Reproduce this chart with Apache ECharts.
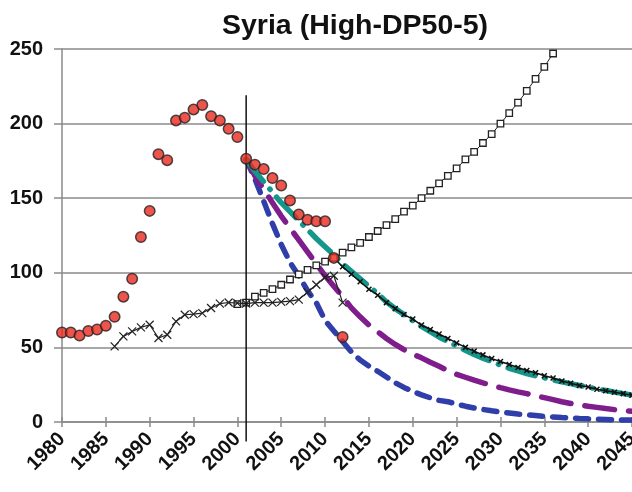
<!DOCTYPE html>
<html>
<head>
<meta charset="utf-8">
<script src="https://cdn.jsdelivr.net/npm/echarts@6/dist/echarts.min.js"></script>
<style>
  html, body { margin: 0; padding: 0; background: #fff; }
  #chart { width: 632px; height: 492px; }
</style>
</head>
<body>
<div id="chart"></div>
<script>
// ---- Data -------------------------------------------------------------
const titleText = 'Syria (High-DP50-5)';

// Historical production (red dots), one value per year from 1980
const productionStart = 1980;
const production = [60, 60, 58, 61, 62, 64.5, 70.5, 84, 96, 124, 141.5, 179.5, 175.5,
  202, 204, 209.5, 212.5, 205, 202, 196.5, 191, 176.5, 172.5, 169.5, 163.5, 158.5,
  148.5, 139, 135.5, 134.5, 134.5, 110, 57];

// Historical consumption (crosses), from 1986
const consumptionStart = 1986;
const consumption = [50.7, 57.4, 60.7, 63.4, 65.2, 56.3, 58.5, 67.4, 71.9, 72.3, 73,
  76.4, 79.3, 80.1, 79.7, 79.3, 80, 80, 80, 80.5, 81, 82, 87, 92, 97, 98, 80];

// Projected consumption growth (open squares), from 2000
const demandStart = 2000;
const demand = [79, 80, 84, 86.5, 89, 92, 95.5, 99, 102, 105, 107.5, 110, 113.5, 117,
  120, 124, 128, 132, 136, 141, 145, 150, 155, 160, 165, 170, 176, 181, 187, 193,
  200, 207, 214, 222, 230, 238, 247];

// Production forecast scenarios, from 2001
const scenarioStart = 2001;
const scenarioHigh = [176, 168, 161, 154, 147, 141, 135, 129, 123, 117.5, 112, 106,
  101, 96, 91, 86, 80.5, 76, 72, 68, 64, 60.5, 57, 54, 51, 48, 45.2, 42.8, 40.5,
  38.2, 36, 34.2, 32.5, 31, 29.6, 28.2, 26.9, 25.7, 24.5, 23.3, 22.2, 21.1, 20, 19, 18];
const scenarioMid = [176, 165, 156, 147, 138, 130, 122, 114, 106, 98, 91, 84, 76.5,
  70.5, 65, 60.5, 56, 52, 48.5, 45.5, 43, 40, 37.3, 34.5, 32, 30, 28, 26.2, 24.6,
  23, 21.5, 20.2, 19, 17.6, 16.3, 15, 13.6, 12.4, 11.4, 10.5, 9.8, 9, 8.3, 7.7, 7.2];
const scenarioLow = [176, 163, 148, 133, 119, 107, 98, 88, 80, 68, 61, 54, 47, 41.5,
  37.5, 34, 30.2, 26.3, 23.2, 20.5, 18.2, 16.2, 14.5, 13.6, 12, 10.6, 9.4, 8.4, 7.5,
  6.7, 6, 5.3, 4.8, 4.3, 3.8, 3.4, 3, 2.7, 2.3, 2.1, 1.9, 1.7, 1.5, 1.4, 1.3];

// Fitted decline of production, from 2011
const declineStart = 2011;
const decline = [110, 104, 99, 94, 89, 85, 80, 76, 72, 69, 65, 62, 59, 56, 53, 50,
  47.5, 45, 42.5, 40.5, 38.5, 36.5, 34.5, 33, 31, 29.5, 27.5, 26, 24.5, 23.5, 22, 21,
  20, 19, 18];

// Reference year marker
const markerYear = 2001;
const markerRange = [219, -13];

// Axis settings
const xMin = 1980, xMax = 2045, xStep = 5;
const yMin = 0, yMax = 250, yStep = 50;

// ---- Helpers ----------------------------------------------------------
const toPairs = (start, values) => values.map((v, i) => [start + i, v]);

const crossSymbol = 'path://M0,0L10,10M10,0L0,10';
const font = '"Liberation Sans", Arial, sans-serif';
const axisGrey = '#8a8a8a';

const chart = echarts.init(document.getElementById('chart'), null, { renderer: 'canvas' });

chart.setOption({
  animation: false,
  backgroundColor: '#ffffff',
  title: {
    text: titleText,
    left: 217,
    top: 7,
    textStyle: { fontFamily: font, fontWeight: 'bold', fontSize: 28.5, color: '#111' }
  },
  grid: {
    left: 62, right: 0, top: 49, bottom: 70,
    containLabel: false, outerBoundsMode: 'none'
  },
  xAxis: [{
    type: 'value', min: xMin, max: xMax, interval: xStep,
    axisLine: { show: true, onZero: false, lineStyle: { color: axisGrey, width: 1.5 } },
    axisTick: { show: true, length: 5, lineStyle: { color: axisGrey, width: 1.5 } },
    axisLabel: {
      rotate: 45, margin: 14, hideOverlap: false,
      fontFamily: font, fontWeight: 'bold', fontSize: 20, color: '#111',
      formatter: v => String(v)
    },
    splitLine: { show: false }
  }, {
    type: 'value', min: xMin, max: xMax, interval: xStep, position: 'bottom',
    axisLine: { show: false },
    axisTick: { show: true, inside: true, length: 5, lineStyle: { color: axisGrey, width: 1.5 } },
    axisLabel: { show: false },
    splitLine: { show: false }
  }],
  yAxis: {
    type: 'value', min: yMin, max: yMax, interval: yStep,
    axisLine: { show: true, lineStyle: { color: axisGrey, width: 1.5 } },
    axisTick: { show: true, length: 8, lineStyle: { color: axisGrey, width: 1.5 } },
    axisLabel: { margin: 19, fontFamily: font, fontWeight: 'bold', fontSize: 20, color: '#111' },
    splitLine: { show: true, lineStyle: { color: axisGrey, width: 1.5 } }
  },
  series: [
    {
      name: 'low', type: 'line', data: toPairs(scenarioStart, scenarioLow),
      showSymbol: false, z: 2,
      lineStyle: { color: '#2f3ea8', width: 5.5, type: [13, 10], cap: 'round' }
    },
    {
      name: 'mid', type: 'line', data: toPairs(scenarioStart, scenarioMid),
      showSymbol: false, z: 2,
      lineStyle: { color: '#7f1d8c', width: 5.5, type: [30, 14], cap: 'round' }
    },
    {
      name: 'high', type: 'line', data: toPairs(scenarioStart, scenarioHigh),
      showSymbol: false, z: 2,
      lineStyle: { color: '#14968a', width: 5.5, type: [28, 10, 0.5, 10], cap: 'round' }
    },
    {
      name: 'decline', type: 'line', data: toPairs(declineStart, decline),
      symbol: crossSymbol, symbolSize: 5, z: 3,
      itemStyle: { color: '#111', borderColor: '#111', borderWidth: 1.5 },
      lineStyle: { color: '#111', width: 1.5 }
    },
    {
      name: 'demand', type: 'line', data: toPairs(demandStart, demand),
      symbol: 'rect', symbolSize: 6.5, z: 4,
      itemStyle: { color: '#ffffff', borderColor: '#222', borderWidth: 1.3 },
      lineStyle: { color: '#222', width: 1 }
    },
    {
      name: 'consumption', type: 'line', data: toPairs(consumptionStart, consumption),
      symbol: crossSymbol, symbolSize: 8, z: 5,
      itemStyle: { color: '#222', borderColor: '#222', borderWidth: 1.2 },
      lineStyle: { color: '#222', width: 1.2 }
    },
    {
      name: 'marker', type: 'line', data: markerRange.map(v => [markerYear, v]),
      showSymbol: false, clip: false, z: 6,
      lineStyle: { color: '#111', width: 1.5 }
    },
    {
      name: 'production', type: 'scatter', data: toPairs(productionStart, production),
      symbol: 'circle', symbolSize: 10.5, z: 7,
      itemStyle: { color: '#e8291e', borderColor: '#222', borderWidth: 1.5 }
    }
  ]
});
</script>
</body>
</html>
